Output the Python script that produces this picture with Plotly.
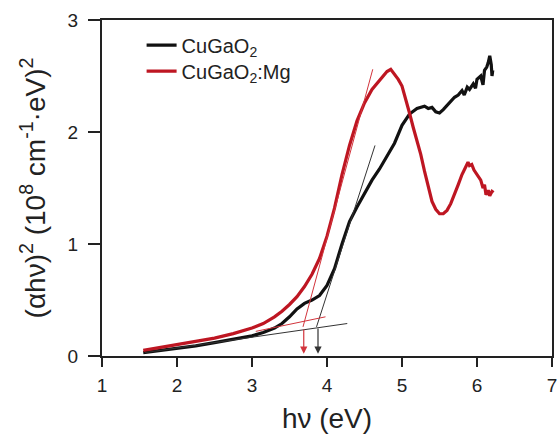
import plotly.graph_objects as go

# --- data -------------------------------------------------------------
black_x = [1.55, 1.8, 2.0, 2.25, 2.5, 2.75, 3.0, 3.15, 3.3, 3.4, 3.5, 3.6, 3.7, 3.8, 3.9,
           4.0, 4.1, 4.2, 4.3, 4.4, 4.5, 4.6, 4.7, 4.8, 4.9, 5.0, 5.1, 5.2, 5.3, 5.35,
           5.4, 5.45, 5.5, 5.55, 5.6, 5.65, 5.7, 5.75, 5.8, 5.83, 5.87, 5.9, 5.95, 5.98,
           6.0, 6.05, 6.08, 6.1, 6.13, 6.15, 6.17, 6.19, 6.2, 6.21]
black_y = [0.03, 0.05, 0.07, 0.09, 0.12, 0.15, 0.18, 0.21, 0.25, 0.29, 0.35, 0.42, 0.47, 0.50, 0.54,
           0.63, 0.78, 1.00, 1.20, 1.33, 1.45, 1.57, 1.67, 1.78, 1.90, 2.06, 2.16, 2.21, 2.23, 2.21,
           2.22, 2.18, 2.17, 2.20, 2.24, 2.28, 2.31, 2.33, 2.37, 2.33, 2.40, 2.38, 2.43, 2.39,
           2.47, 2.50, 2.42, 2.55, 2.58, 2.62, 2.68, 2.60, 2.50, 2.55]

red_x = [1.55, 1.8, 2.0, 2.25, 2.5, 2.75, 3.0, 3.15, 3.3, 3.4, 3.5, 3.6, 3.7, 3.8, 3.9,
         4.0, 4.1, 4.2, 4.3, 4.4, 4.5, 4.6, 4.7, 4.75, 4.8, 4.85, 4.9, 4.95, 5.0, 5.05,
         5.1, 5.15, 5.2, 5.25, 5.3, 5.35, 5.4, 5.45, 5.5, 5.55, 5.6, 5.65, 5.7, 5.75,
         5.8, 5.85, 5.88, 5.9, 5.93, 5.96, 6.0, 6.05, 6.08, 6.1, 6.12, 6.15, 6.17, 6.2, 6.22]
red_y = [0.05, 0.08, 0.10, 0.13, 0.16, 0.20, 0.25, 0.29, 0.35, 0.40, 0.46, 0.53, 0.62, 0.73, 0.87,
         1.07, 1.32, 1.62, 1.88, 2.10, 2.26, 2.38, 2.46, 2.50, 2.54, 2.56, 2.52, 2.47, 2.41, 2.30,
         2.17, 2.04, 1.93, 1.80, 1.65, 1.50, 1.38, 1.31, 1.27, 1.27, 1.30, 1.36, 1.44, 1.53,
         1.62, 1.68, 1.73, 1.70, 1.71, 1.66, 1.62, 1.57, 1.50, 1.53, 1.44, 1.48, 1.43, 1.47, 1.46]

# construction (tangent / baseline) lines
black_tangent_x = [3.86, 4.64]
black_tangent_y = [0.26, 1.88]
black_base_x = [1.57, 4.27]
black_base_y = [0.03, 0.29]
red_tangent_x = [3.68, 4.61]
red_tangent_y = [0.26, 2.56]
red_base_x = [3.05, 3.98]
red_base_y = [0.22, 0.35]

# band-gap arrows: x position, start y, end y
black_gap = [3.88, 0.26, 0.02]
red_gap = [3.69, 0.25, 0.02]

x_ticks = [1, 2, 3, 4, 5, 6, 7]
y_ticks = [0, 1, 2, 3]

RED = "#BE1622"
BLACK = "#111111"
FONT = "Liberation Sans, Arial, sans-serif"
TXT = "#222222"

fig = go.Figure()
fig.add_trace(go.Scatter(x=black_x, y=black_y, mode="lines", name="CuGaO<sub>2</sub>",
                         line=dict(color=BLACK, width=3.2), legend="legend"))
fig.add_trace(go.Scatter(x=red_x, y=red_y, mode="lines", name="CuGaO<sub>2</sub>:Mg",
                         line=dict(color=RED, width=3.2), legend="legend2"))
for lx, ly, c in [(black_tangent_x, black_tangent_y, "#333333"),
                  (black_base_x, black_base_y, "#333333"),
                  (red_tangent_x, red_tangent_y, "#D2343C"),
                  (red_base_x, red_base_y, "#D2343C")]:
    fig.add_trace(go.Scatter(x=lx, y=ly, mode="lines", showlegend=False,
                             line=dict(color=c, width=1), hoverinfo="skip"))

for (gx, y0, y1), c in [(black_gap, "#333333"), (red_gap, "#D2343C")]:
    fig.add_annotation(x=gx, y=y1, ax=gx, ay=y0, xref="x", yref="y", axref="x", ayref="y",
                       showarrow=True, arrowhead=2, arrowsize=1.2, arrowwidth=1.2,
                       arrowcolor=c, text="")

axis_common = dict(showline=True, linecolor=TXT, linewidth=2, mirror=True,
                   ticks="outside", tickwidth=2, tickcolor=TXT,
                   showgrid=False, zeroline=False, automargin=False,
                   ticklabeloverflow="allow",
                   tickfont=dict(family=FONT, size=19, color=TXT))

fig.update_xaxes(range=[1, 7], tickvals=x_ticks, ticklen=9, ticklabelstandoff=2,
                 title=dict(text="hν (eV)", font=dict(family=FONT, size=28, color=TXT),
                            standoff=14),
                 **axis_common)
fig.update_yaxes(range=[0, 3], tickvals=y_ticks, ticklen=12, ticklabelstandoff=6,
                 title=dict(text="(αhν)<sup>2</sup> (10<sup>8</sup> cm<sup>-1</sup>·eV)<sup>2</sup>",
                            font=dict(family=FONT, size=28, color=TXT), standoff=14),
                 **axis_common)

leg_common = dict(xanchor="left", yanchor="middle",
                  font=dict(family=FONT, size=20, color=TXT), bgcolor="rgba(0,0,0,0)")
fig.update_layout(
    width=558, height=437,
    margin=dict(l=102, r=6, t=20, b=81),
    plot_bgcolor="white", paper_bgcolor="white",
    font=dict(family=FONT, color=TXT),
    legend=dict(x=0.088, y=0.925, **leg_common),
    legend2=dict(x=0.088, y=0.848, **leg_common),
)

fig.write_html(
    "out.html",
    config={"displayModeBar": False},
    post_script="document.body.style.margin='0';"
                "document.documentElement.style.overflow='hidden';",
)
